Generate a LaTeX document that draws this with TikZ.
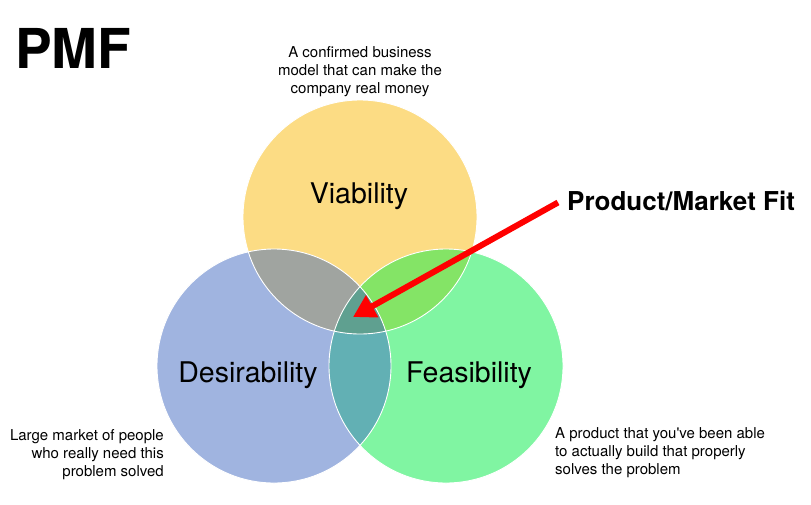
\documentclass[tikz,border=0pt]{standalone}
\usepackage{fontspec}
\setmainfont{TeX Gyre Heros}
\usepackage{xcolor}
\usepackage{tikz}
\usetikzlibrary{arrows.meta,positioning}
\definecolor{viabcol}{HTML}{FCDC84}
\definecolor{desircol}{HTML}{A0B4E0}
\definecolor{feascol}{HTML}{80F5A2}
\definecolor{vdcol}{HTML}{A0A4A0}
\definecolor{vfcol}{HTML}{84E466}
\definecolor{dfcol}{HTML}{62B0B4}
\definecolor{allcol}{HTML}{5FA090}
\tikzset{
  venn/.style      = {circle, minimum size=234pt, inner sep=0pt, draw=none},
  vennlab/.style   = {font=\fontsize{28.5}{33}\selectfont, inner sep=0pt, anchor=base},
  note/.style      = {font=\fontsize{15}{18}\selectfont, inner sep=0pt},
  fitarrow/.style  = {-{Triangle[length=22pt,width=24pt]}, line width=6pt, red},
  rim/.style       = {draw=white, line width=0.9pt},
}

\begin{document}
\begin{tikzpicture}[x=1pt, y=-1pt]
\useasboundingbox (0,0) rectangle (811,504);
\node[venn, fill=viabcol] (viab) at (360, 217) {};
\node[venn, fill=desircol] (desir) at (274, 366) {};
\node[venn, fill=feascol] (feas) at (446, 366) {};
\begin{scope}
  \clip (viab.center) circle [radius=117pt];
  \fill[vdcol] (desir.center) circle [radius=117pt];
  \fill[vfcol] (feas.center) circle [radius=117pt];
\end{scope}
\begin{scope}
  \clip (desir.center) circle [radius=117pt];
  \fill[dfcol] (feas.center) circle [radius=117pt];
  \clip (feas.center) circle [radius=117pt];
  \fill[allcol] (viab.center) circle [radius=117pt];
\end{scope}
\draw[rim] (viab.center) circle [radius=117pt];
\draw[rim] (desir.center) circle [radius=117pt];
\draw[rim] (feas.center) circle [radius=117pt];
% labels
\node[vennlab] (viabtxt) at (359, 203) {Viability};
\node[vennlab] (desirtxt) at (248, 382) {Desirability};
\node[vennlab] (feastxt) at (469, 382) {Feasibility};
\node[font=\fontsize{55}{60}\selectfont\bfseries, inner sep=0pt, anchor=base west] (title) at (15, 68) {PMF};
\node[note, align=center] (viabnote) at (360, 72) {A confirmed business\\model that can make the\\company real money};
\node[note, align=right, anchor=east] (desirnote) at (164, 455) {Large market of people\\who really need this\\problem solved};
\node[note, align=left, anchor=west] (feasnote) at (555, 453) {A product that you\textquotesingle ve been able\\to actually build that properly\\solves the problem};
\node[font=\fontsize{26}{31}\selectfont\bfseries, inner sep=0pt, anchor=base west] (fitlab) at (567, 210) {Product/Market Fit};
\coordinate (core) at (353, 317);
\draw[fitarrow] ([xshift=-9pt, yshift=-2pt]fitlab.west) -- (core);
\end{tikzpicture}
\end{document}
